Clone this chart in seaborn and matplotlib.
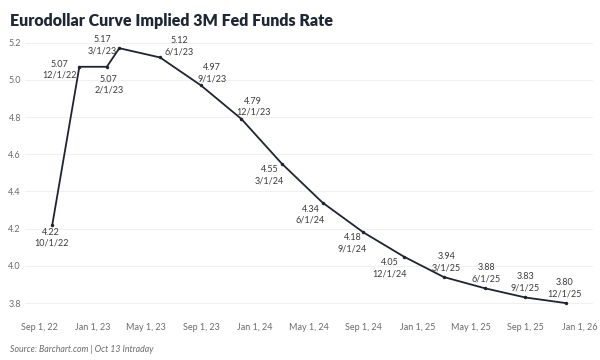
import pandas as pd
import numpy as np
import seaborn as sns
import matplotlib
matplotlib.use("Agg")
from matplotlib import pyplot as plt

# data
dates = ["10/1/22", "12/1/22", "2/1/23", "3/1/23", "6/1/23", "9/1/23", "12/1/23",
         "3/1/24", "6/1/24", "9/1/24", "12/1/24", "3/1/25", "6/1/25", "9/1/25", "12/1/25"]
rates = [4.22, 5.07, 5.07, 5.17, 5.12, 4.97, 4.79,
         4.55, 4.34, 4.18, 4.05, 3.94, 3.88, 3.83, 3.80]

# label offsets in pixels (dx, dy) from each point
offsets = [(-1, -13), (-20, -3), (2, -18), (-17, 3), (19, 11), (11, 12), (12, 12),
           (-12, -12), (-12, -12), (-11, -11), (-14, -12), (3, 15), (2, 15), (0, 15), (-1, 15)]

df = pd.DataFrame({"date": pd.to_datetime(dates, format="%m/%d/%y"), "rate": rates})

sns.set_style("white")
plt.rcParams["font.family"] = ["Lato", "DejaVu Sans"]

fig = plt.figure(figsize=(6, 3.6), dpi=100)
ax = fig.add_axes([0.042, 0.122, 0.946, 0.77])

sns.lineplot(data=df, x="date", y="rate", ax=ax, color="#1f2430", linewidth=1.3,
             marker="o", markersize=2.5, markeredgewidth=0)

for d, r, lab, (dx, dy) in zip(df["date"], df["rate"], dates, offsets):
    ax.annotate(f"{r:.2f}\n{lab}", (d, r), xytext=(dx, dy), textcoords="offset pixels",
                ha="center", va="center", fontsize=6.5, color="#3a3a3a", linespacing=1.3)

ax.set_xlim(pd.Timestamp("2022-08-01"), pd.Timestamp("2026-01-31"))
ax.set_ylim(3.73, 5.22)

ticks = pd.date_range("2022-09-01", "2026-01-01", freq="4MS")
ax.set_xticks(ticks)
ax.set_xticklabels([t.strftime("%b 1, %y") for t in ticks])
ax.set_yticks([3.8, 4.0, 4.2, 4.4, 4.6, 4.8, 5.0, 5.2])
ax.yaxis.set_major_formatter(matplotlib.ticker.FormatStrFormatter("%.1f"))

ax.tick_params(axis="both", labelsize=6.5, colors="#6b6b6b", length=0)
ax.tick_params(axis="x", pad=5)
ax.tick_params(axis="y", pad=3)
ax.grid(axis="y", color="#f0f0f0", linewidth=0.8)
ax.set_xlabel("")
ax.set_ylabel("")
sns.despine(ax=ax, left=True, bottom=True)

fig.text(0.017, 0.942, "Eurodollar Curve Implied 3M Fed Funds Rate", fontsize=11.5,
         fontweight="heavy", color="#1e2735", va="center")
fig.text(0.017, 0.03, "Source: Barchart.com | Oct 13 Intraday", fontsize=6.3,
         style="italic", color="#6b6b6b", va="center")

fig.savefig("out.png", dpi=100)
